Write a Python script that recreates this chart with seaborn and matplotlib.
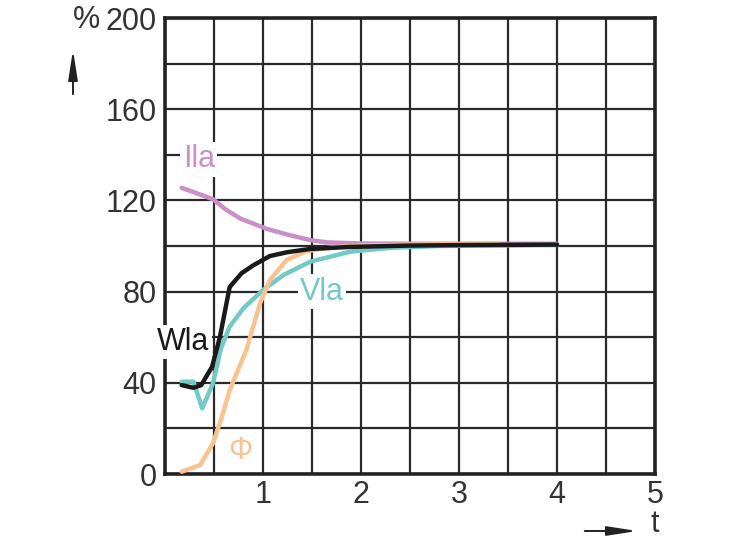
import numpy as np
import pandas as pd
import matplotlib
matplotlib.use("Agg")
import matplotlib.pyplot as plt
import seaborn as sns

# valeurs
t_ila = [0.17, 0.3, 0.49, 0.62, 0.77, 1.04, 1.25, 1.48, 1.65, 2.0, 2.5, 3.0, 4.0]
ila = [125.5, 123.5, 120.5, 116, 112, 107.5, 105, 102.6, 101.6, 101.1, 101, 101, 101]

t_wla = [0.17, 0.29, 0.37, 0.48, 0.56, 0.66, 0.78, 0.9, 1.07, 1.25, 1.48, 1.89, 2.5, 3.0, 4.0]
wla = [39, 37.8, 39, 47, 60, 82, 88, 91.5, 95.6, 97.3, 98.7, 99.6, 100.2, 100.4, 100.6]

t_vla = [0.17, 0.29, 0.38, 0.49, 0.57, 0.66, 0.8, 1.0, 1.21, 1.48, 1.89, 2.3, 2.8, 3.5, 4.0]
vla = [40.5, 40.5, 28.8, 39.8, 55, 64.6, 72.7, 80.7, 87.3, 93.1, 97.5, 99.2, 100, 100.3, 100.5]

t_phi = [0.17, 0.36, 0.49, 0.58, 0.66, 0.83, 0.97, 1.07, 1.24, 1.45, 1.7, 2.0, 2.5, 3.0, 3.4]
phi = [1, 4, 13.5, 25, 36.8, 54.4, 74.9, 85, 93.9, 97.8, 99.4, 100.2, 100.6, 100.8, 100.9]

x_ticks = [1, 2, 3, 4, 5]
y_ticks = [0, 40, 80, 120, 160, 200]

sns.set_style("white")
plt.rcParams['font.family'] = ['Liberation Sans', 'DejaVu Sans']

fig, ax = plt.subplots(figsize=(7.32, 5.49), dpi=100)
fig.subplots_adjust(left=0.2254, right=0.8948, bottom=0.1366, top=0.9672)

couleurs = {"Ila": "#c98fc6", "Vla": "#72c9c6", "Phi": "#f8c390", "Wla": "#1a1a1a"}
taille = 22

sns.lineplot(x=t_ila, y=ila, ax=ax, color=couleurs["Ila"], lw=3.2, zorder=3)
sns.lineplot(x=t_vla, y=vla, ax=ax, color=couleurs["Vla"], lw=3.2, zorder=3)
sns.lineplot(x=t_phi, y=phi, ax=ax, color=couleurs["Phi"], lw=3.2, zorder=4)
sns.lineplot(x=t_wla, y=wla, ax=ax, color=couleurs["Wla"], lw=3.2, zorder=5)

ax.set_xlim(0, 5)
ax.set_ylim(0, 200)
ax.set_xticks(np.arange(0, 5.01, 0.5), minor=True)
ax.set_yticks(np.arange(0, 201, 20), minor=True)
ax.set_xticks(x_ticks)
ax.set_yticks(y_ticks)
ax.set_xticklabels([str(v) for v in x_ticks], fontsize=taille, color="#333333")
ax.set_yticklabels([str(v) for v in y_ticks], fontsize=taille, color="#333333")
ax.tick_params(axis="both", which="both", length=0)
ax.tick_params(axis="y", pad=6)
ax.tick_params(axis="x", pad=4)
ax.grid(True, which="both", color="#2a2a2a", lw=1.6)
ax.set_axisbelow(True)
for s in ax.spines.values():
    s.set_visible(True)
    s.set_color("#222222")
    s.set_linewidth(2.6)

boite = dict(facecolor="white", edgecolor="none", pad=1.5)
ax.text(0.18, 138, "Ila", color=couleurs["Ila"], fontsize=taille, ha="left", va="center", bbox=boite, zorder=6)
ax.text(1.38, 80, "Vla", color=couleurs["Vla"], fontsize=taille, ha="left", va="center", bbox=boite, zorder=6)
ax.text(-0.08, 58, "Wla", color=couleurs["Wla"], fontsize=taille, ha="left", va="center", bbox=boite, zorder=6)
ax.text(0.77, 10, "Φ", color=couleurs["Phi"], fontsize=taille, ha="center", va="center", zorder=6)

# flèches et unités hors des axes
fig.text(86 / 732, 1 - 20 / 549, "%", fontsize=taille, ha="center", va="center", color="#333333")
fig.text(655 / 732, 1 - 524 / 549, "t", fontsize=taille, ha="center", va="center", color="#333333")
fleche = dict(arrowstyle="-|>,head_length=0.9,head_width=0.14", color="#222222", lw=1.4, mutation_scale=20)
ax.annotate("", xy=(73 / 732, 1 - 47 / 549), xytext=(73 / 732, 1 - 97 / 549),
            xycoords="figure fraction", textcoords="figure fraction",
            arrowprops=fleche, annotation_clip=False)
ax.annotate("", xy=(640 / 732, 1 - 531 / 549), xytext=(582 / 732, 1 - 531 / 549),
            xycoords="figure fraction", textcoords="figure fraction",
            arrowprops=fleche, annotation_clip=False)

fig.savefig("out.png", dpi=100)
